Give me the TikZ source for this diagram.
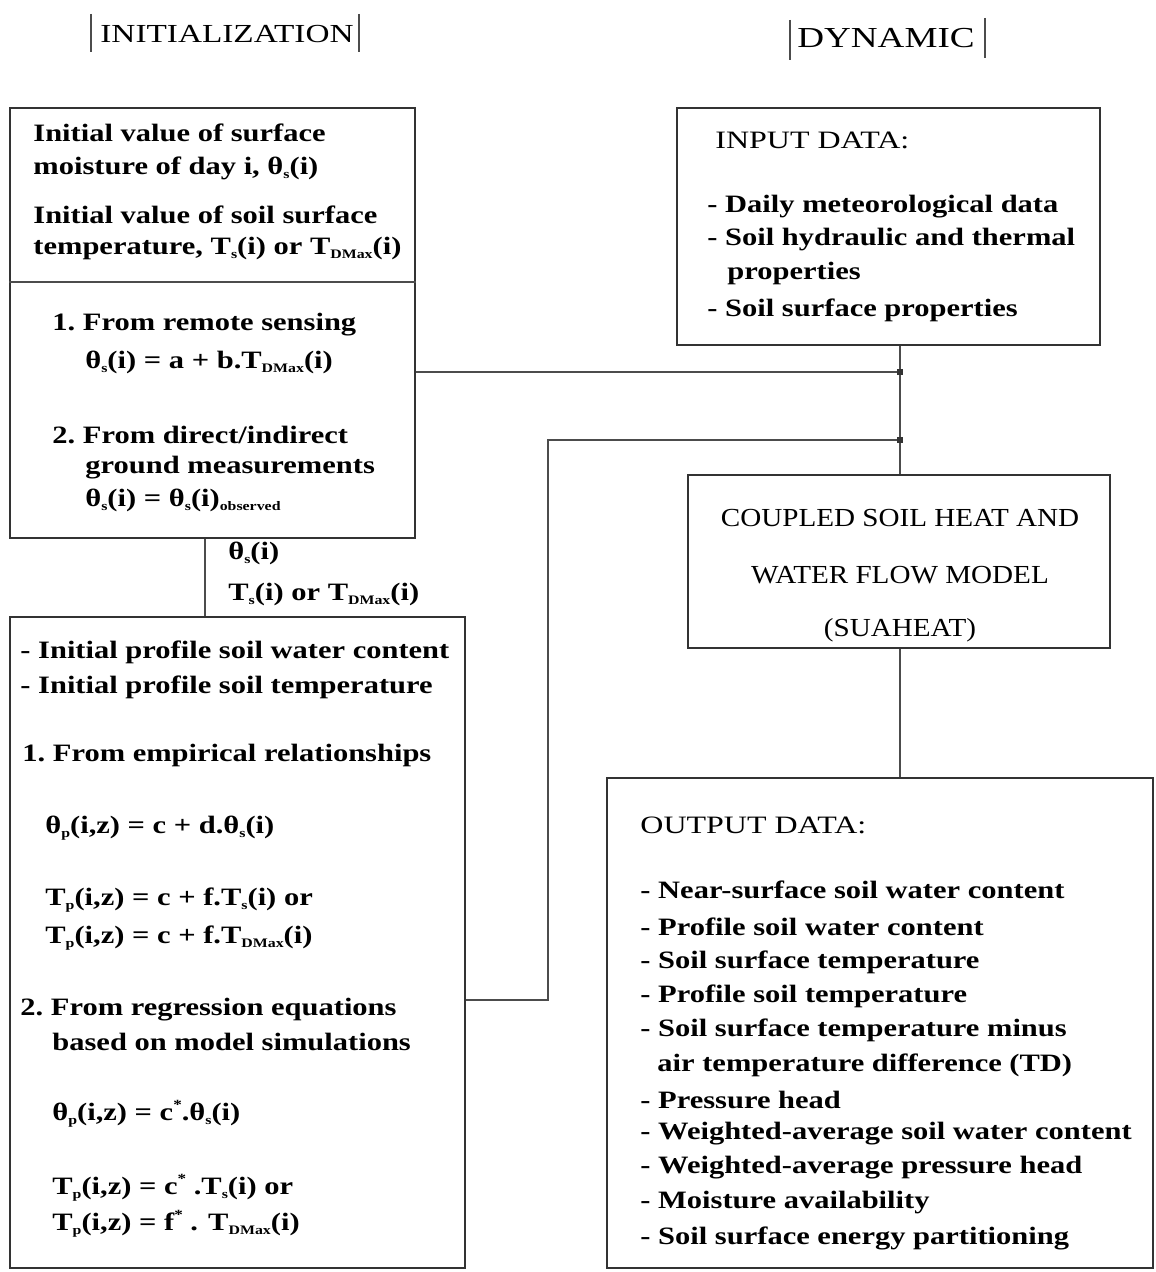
\documentclass[tikz,border=0pt]{standalone}
\usepackage{fontspec}
\setmainfont{Liberation Serif}
\newfontfamily\widebody[FakeStretch=1.22]{Liberation Serif}
\newfontfamily\widecap[FakeStretch=1.28]{Liberation Serif}
\newfontfamily\widemid[FakeStretch=1.12]{Liberation Serif}
\newcommand{\sbs}[1]{\raisebox{-0.4ex}{\fontsize{6.5}{7}\selectfont #1}}
\newcommand{\sps}[1]{\raisebox{0.9ex}{\fontsize{7}{7}\selectfont #1}}
\begin{document}
\begin{tikzpicture}[x=0.5pt,y=-0.5pt,
  box/.style={draw=black!80,line width=0.7pt,inner sep=0pt},
  conn/.style={draw=black!70,line width=0.6pt},
  txt/.style={anchor=west,inner sep=0pt,font=\widebody\fontsize{12.5}{15}\selectfont\bfseries},
  head/.style={inner sep=0pt,font=\widecap\fontsize{13}{15}\selectfont},
  mid/.style={inner sep=0pt,font=\widemid\fontsize{13}{15}\selectfont},
  captxt/.style={anchor=west,inner sep=0pt,font=\widecap\fontsize{12.5}{15}\selectfont}]
\useasboundingbox (0,0) rectangle (1155,1272);
% headings
\node[head] (hinit) at (227,34) {INITIALIZATION};
\draw[conn] (91,14) -- (91,52) (359,14) -- (359,52);
\node[head,font=\widecap\fontsize{14.5}{16}\selectfont] (hdyn) at (886,38) {DYNAMIC};
\draw[conn] (790,20) -- (790,60) (985,18) -- (985,58);
% boxes
\node[box,minimum width=202.5pt,minimum height=215pt] (A) at (212.5,323) {};
\node[box,minimum width=227.5pt,minimum height=325.5pt] (B) at (237.5,942.5) {};
\node[box,minimum width=211.5pt,minimum height=118.5pt] (C) at (888.5,226.5) {};
\node[box,minimum width=211pt,minimum height=86.5pt] (D) at (899,561.5) {};
\node[box,minimum width=273pt,minimum height=245pt] (E) at (880,1023) {};
\coordinate (dv) at (0,282);
\draw[conn] (A.west |- dv) -- (A.east |- dv);
% box A text
\node[txt] (a1) at (33,133) {Initial value of surface};
\node[txt] (a2) at (33,168) {moisture of day i, θ\sbs{s}(i)};
\node[txt] (a3) at (33,215) {Initial value of soil surface};
\node[txt] (a4) at (33,248) {temperature, T\sbs{s}(i) or T\sbs{DMax}(i)};
\node[txt] (a5) at (52,325) {1.\ From remote sensing};
\node[txt] (a6) at (85,362) {θ\sbs{s}(i) = a + b.T\sbs{DMax}(i)};
\node[txt] (a7) at (52,435) {2.\ From direct/indirect};
\node[txt] (a8) at (85,468) {ground measurements};
\node[txt] (a9) at (85,500) {θ\sbs{s}(i) = θ\sbs{s}(i)\sbs{observed}};
% connector A -> B
\coordinate (tA) at (205,0);
\draw[conn] (A.south -| tA) -- (B.north -| tA);
\node[txt] (l1) at (228,553) {θ\sbs{s}(i)};
\node[txt] (l2) at (228,594) {T\sbs{s}(i) or T\sbs{DMax}(i)};
% box B text
\node[txt] (b1) at (20,652) {- Initial profile soil water content};
\node[txt] (b2) at (20,687) {- Initial profile soil temperature};
\node[txt] (b3) at (22,755) {1.\ From empirical relationships};
\node[txt] (b4) at (45,828) {θ\sbs{p}(i,z) = c + d.θ\sbs{s}(i)};
\node[txt] (b5) at (45,900) {T\sbs{p}(i,z) = c + f.T\sbs{s}(i) or};
\node[txt] (b6) at (45,938) {T\sbs{p}(i,z) = c + f.T\sbs{DMax}(i)};
\node[txt] (b7) at (20,1010) {2.\ From regression equations};
\node[txt] (b8) at (52,1042) {based on model simulations};
\node[txt] (b9) at (52,1114) {θ\sbs{p}(i,z) = c\sps{*}.θ\sbs{s}(i)};
\node[txt] (b10) at (52,1188) {T\sbs{p}(i,z) = c\sps{*} .T\sbs{s}(i) or};
\node[txt] (b11) at (52,1224) {T\sbs{p}(i,z) = f\sps{*} . T\sbs{DMax}(i)};
% box C text
\node[captxt] (c0) at (715,140) {INPUT DATA:};
\node[txt] (c1) at (707,207) {- Daily meteorological data};
\node[txt] (c2) at (707,240) {- Soil hydraulic and thermal};
\node[txt] (c3) at (727,273) {properties};
\node[txt] (c4) at (707,310) {- Soil surface properties};
% box D text
\node[mid] (d1) at (900,518) {COUPLED SOIL HEAT AND};
\node[mid] (d2) at (900,575) {WATER FLOW MODEL};
\node[mid] (d3) at (900,630) {(SUAHEAT)};
% box E text
\node[captxt] (e0) at (640,825) {OUTPUT DATA:};
\node[txt] (e1) at (640,890) {- Near-surface soil water content};
\node[txt] (e2) at (640,927) {- Profile soil water content};
\node[txt] (e3) at (640,962) {- Soil surface temperature};
\node[txt] (e4) at (640,996) {- Profile soil temperature};
\node[txt] (e5) at (640,1030) {- Soil surface temperature minus};
\node[txt] (e6) at (657,1065) {air temperature difference (TD)};
\node[txt] (e7) at (640,1100) {- Pressure head};
\node[txt] (e8) at (640,1134) {- Weighted-average soil water content};
\node[txt] (e9) at (640,1168) {- Weighted-average pressure head};
\node[txt] (e10) at (640,1203) {- Moisture availability};
\node[txt] (e11) at (640,1238) {- Soil surface energy partitioning};
% connectors
\coordinate (j1) at (900,372);
\coordinate (j2) at (900,440);
\coordinate (k1) at (548,440);
\coordinate (k2) at (548,1000);
\draw[conn] (A.east |- j1) -- (j1);
\draw[conn] (B.east |- k2) -- (k2) -- (k1) -- (j2);
\draw[conn] (C.south -| j1) -- (D.north -| j1);
\draw[conn] (D.south -| j1) -- (E.north -| j1);
\fill[black!80] (j1) ++(-3,-3) rectangle ++(6,6);
\fill[black!80] (j2) ++(-3,-3) rectangle ++(6,6);
\end{tikzpicture}
\end{document}
